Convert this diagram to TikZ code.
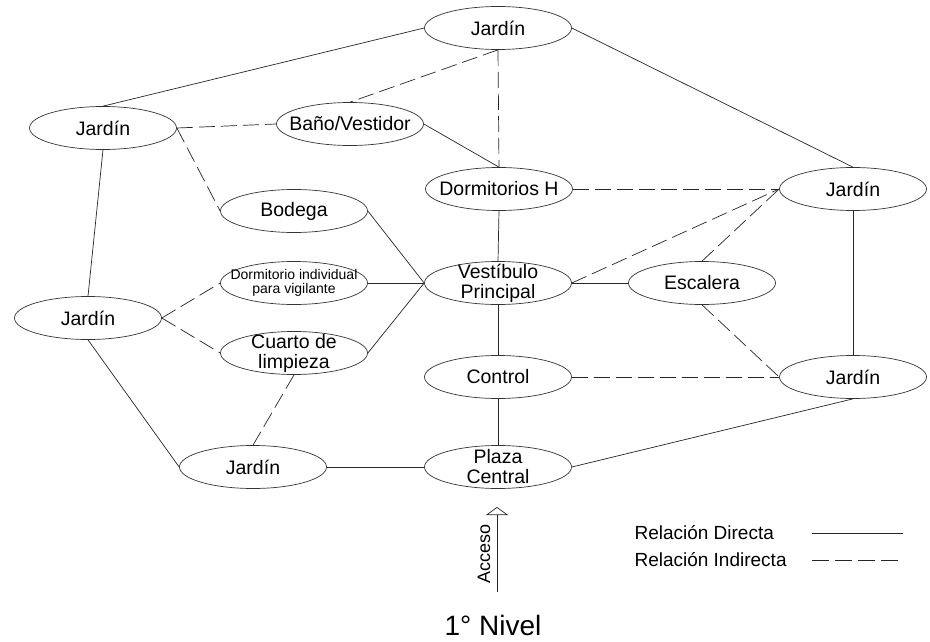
\documentclass[tikz,border=0pt]{standalone}
\usepackage{fontspec}
\setmainfont{Liberation Sans}
\usetikzlibrary{shapes.geometric,arrows.meta}
\begin{document}
\begin{tikzpicture}[x=1pt,y=-1pt,
  rtext/.style={align=center,inner sep=0pt,font=\fontsize{19.5}{20}\selectfont},
  room/.style={ellipse,draw=black!80,line width=0.7pt,minimum width=147pt,minimum height=43pt,inner sep=0pt,label={[rtext]center:#1}},
  roomsmall/.style={ellipse,draw=black!80,line width=0.7pt,minimum width=147pt,minimum height=43pt,inner sep=0pt,label={[rtext,font=\fontsize{14}{14.5}\selectfont]center:#1}},
  direct/.style={draw=black!85,line width=0.7pt},
  indirect/.style={draw=black!85,line width=0.7pt,dash pattern=on 16pt off 6pt}]
\useasboundingbox (0,0) rectangle (930,642);
\node[room={Jardín}] (jt)  at (498,28)  {};
\node[room={Jardín}] (jlt) at (103,128) {};
\node[room={Baño/Vestidor}] (bano) at (350,124) {};
\node[room={Bodega}] (bod) at (294,211) {};
\node[room={Dormitorios H}] (dh)  at (499,189) {};
\node[room={Jardín}] (jrt) at (853,189) {};
\node[room={Jardín}] (jlm) at (88,318)  {};
\node[roomsmall={Dormitorio individual\\para vigilante}] (di) at (294,283) {};
\node[room={Cuarto de\\limpieza}] (cl)  at (294,353) {};
\node[room={Vestíbulo\\Principal}] (vp)  at (498,283) {};
\node[room={Escalera}] (esc) at (702,283) {};
\node[room={Control}] (ctl) at (498,377) {};
\node[room={Jardín}] (jrb) at (853,377) {};
\node[room={Jardín}] (jbl) at (253,467) {};
\node[room={Plaza\\Central}] (pc)  at (498,467) {};
% direct
\draw[direct] (jt.west) -- (jlt.north);
\draw[direct] (jt.east) -- (jrt.north);
\draw[direct] (jlt.south) -- (jlm.north);
\draw[direct] (bano.east) -- (dh.north);
\draw[direct] (bod.east) -- (vp.west);
\draw[direct] (di.east) -- (vp.west);
\draw[direct] (cl.east) -- (vp.west);
\draw[direct] (dh.south) -- (vp.north);
\draw[direct] (vp.east) -- (esc.west);
\draw[direct] (vp.south) -- (ctl.north);
\draw[direct] (ctl.south) -- (pc.north);
\draw[direct] (jrt.south) -- (jrb.north);
\draw[direct] (jrb.south) -- (pc.east);
\draw[direct] (jlm.south) -- (jbl.west);
\draw[direct] (jbl.east) -- (pc.west);
% indirect
\draw[indirect] (jt.south) -- (bano.north);
\draw[indirect] (jt.south) -- (dh.north);
\draw[indirect] (jlt.east) -- (bano.west);
\draw[indirect] (jlt.east) -- (bod.west);
\draw[indirect] (dh.east) -- (jrt.west);
\draw[indirect] (vp.east) -- (jrt.west);
\draw[indirect] (esc.north) -- (jrt.west);
\draw[indirect] (esc.south) -- (jrb.west);
\draw[indirect] (ctl.east) -- (jrb.west);
\draw[indirect] (jlm.east) -- (di.west);
\draw[indirect] (jlm.east) -- (cl.west);
\draw[indirect] (cl.south) -- (jbl.north);
% access arrow
\coordinate (acc0) at (497,592);
\coordinate (acc1) at (497,507);
\draw[direct,-{Triangle[open,width=22pt,length=8pt]}] (acc0) -- (acc1);
\node[rotate=90,font=\fontsize{18}{18}\selectfont] (acc) at (484,554) {Acceso};
% legend
\node[anchor=west,font=\fontsize{19}{19}\selectfont] (ld) at (631,533) {Relación Directa};
\node[anchor=west,font=\fontsize{19}{19}\selectfont] (li) at (631,560) {Relación Indirecta};
\coordinate (ld0) at (812,533); \coordinate (ld1) at (903,533);
\coordinate (li0) at (812,560); \coordinate (li1) at (903,560);
\draw[direct] (ld0) -- (ld1);
\draw[indirect,dash pattern=on 17pt off 6pt] (li0) -- (li1);
\node[font=\fontsize{28}{30}\selectfont] (title) at (493,625) {1° Nivel};
\end{tikzpicture}
\end{document}
